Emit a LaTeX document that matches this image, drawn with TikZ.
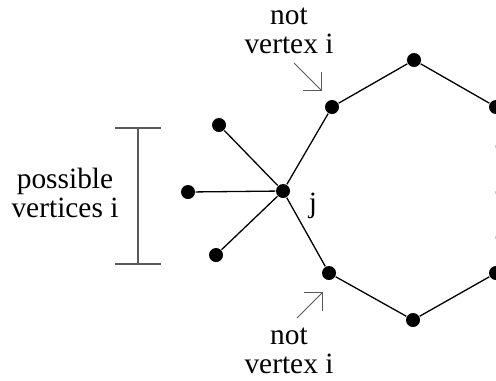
\documentclass[tikz,border=0pt]{standalone}
\usepackage{fontspec}
\setmainfont{Liberation Serif}
\usetikzlibrary{arrows.meta}

\begin{document}
\begin{tikzpicture}[x=1bp,y=-1bp,line width=1.3bp,
    font=\fontsize{29.5}{29}\selectfont]
      \useasboundingbox (0,0) rectangle (496,380);

      \begin{scope}[every node/.style={circle,fill,inner sep=0pt,minimum size=14bp}]
        \node (j)  at (283,191) {};
        \node (l1) at (219,125) {};
        \node (l2) at (188,192) {};
        \node (l3) at (216,255) {};
        \node (u1) at (332,107) {};
        \node (u2) at (414,60)  {};
        \node (u3) at (496,107) {};
        \node (d1) at (329,273) {};
        \node (d2) at (413,320) {};
        \node (d3) at (496,273) {};
      \end{scope}

      \begin{scope}[every edge/.style={draw}]
        \path (j)  edge (l1);
        \path (j)  edge (l2);
        \path (j)  edge (l3);
        \path (j)  edge (u1);
        \path (u1) edge (u2);
        \path (u2) edge (u3);
        \path (j)  edge (d1);
        \path (d1) edge (d2);
        \path (d2) edge (d3);
      \end{scope}

      % faint dots at the right border
      \begin{scope}[every node/.style={rectangle,fill=gray!40,inner sep=0pt,minimum width=1bp,minimum height=3bp}]
        \node (e1) at (495,146) {};
        \node (e2) at (495,192) {};
        \node (e3) at (495,237) {};
      \end{scope}

      \node[anchor=base] (jlab) at (313,212) {j};
      \node[anchor=base,align=center] (top) at (289,53) {not\\vertex i};
      \node[anchor=base,align=center] (bot) at (289,373) {not\\vertex i};
      \node[anchor=base,align=center] (poss) at (65,217) {possible\\vertices i};

      % pointers
      \begin{scope}[gray!70!black,line width=1bp,-{Straight Barb[length=13.4bp,width=26.8bp]}]
        \coordinate (ta) at (294,63);
        \coordinate (ha) at (322,91);
        \coordinate (tb) at (297,318);
        \coordinate (hb) at (323,292);
        \draw (ta) -- (ha);
        \draw (tb) -- (hb);
      \end{scope}

      % range bar
      \begin{scope}[gray!70!black,line width=1.2bp]
        \coordinate (bt) at (138,128);
        \coordinate (bb) at (138,264);
        \draw (bt) -- (bb);
        \draw ([xshift=-23bp]bt) -- ([xshift=23bp]bt);
        \draw ([xshift=-23bp]bb) -- ([xshift=23bp]bb);
      \end{scope}

    \end{tikzpicture}
\end{document}
